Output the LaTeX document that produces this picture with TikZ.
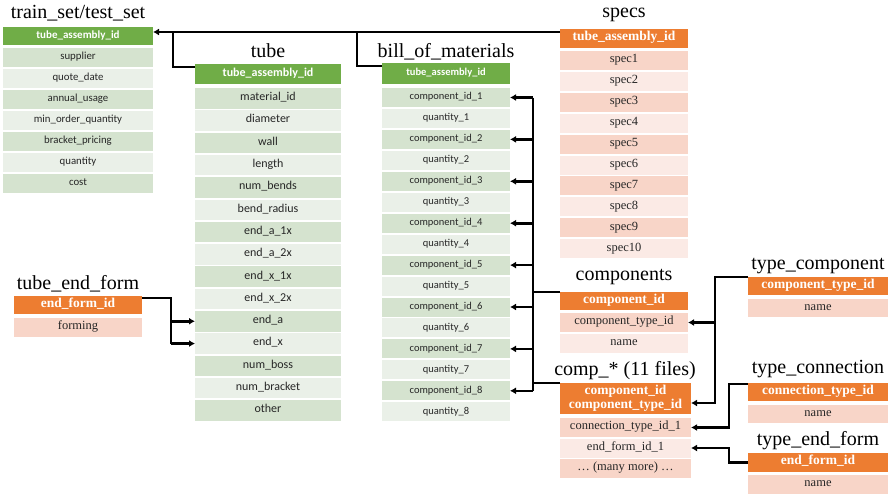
\documentclass[tikz,border=0pt]{standalone}
\usepackage{fontspec}
\setmainfont{Liberation Serif}
\newfontfamily\calfont{Carlito}
\usetikzlibrary{arrows.meta,calc}
\definecolor{hdgreen}{HTML}{70AD47}
\definecolor{rwgreen}{HTML}{D5E3CF}
\definecolor{rwgreenl}{HTML}{EAF0E8}
\definecolor{hdorange}{HTML}{ED7D31}
\definecolor{rworange}{HTML}{F8D5C8}
\definecolor{rworangel}{HTML}{FBEAE5}
\definecolor{txt}{HTML}{262626}
\tikzset{
  cell/.style={anchor=north west,inner sep=0pt,outer sep=0pt,text=txt,text height=0.7em,text depth=0.22em},
  ttl/.style={anchor=base,font=\fontsize{20}{20}\selectfont},
  gh/.style={cell,fill=hdgreen,text=white,font=\calfont\bfseries\fontsize{11}{11}\selectfont},
  g1/.style={cell,fill=rwgreen,font=\calfont\fontsize{10.8}{11}\selectfont},
  g0/.style={cell,fill=rwgreenl,font=\calfont\fontsize{10.8}{11}\selectfont},
  oh/.style={cell,fill=hdorange,text=white,font=\bfseries\fontsize{13.5}{14}\selectfont},
  o1/.style={cell,fill=rworange,font=\fontsize{12.5}{13}\selectfont},
  o0/.style={cell,fill=rworangel,font=\fontsize{12.5}{13}\selectfont},
  link/.style={line width=2.6pt},
  arr/.style={link,-{Latex[length=6pt,width=7pt]}},
}
\begin{document}
\begin{tikzpicture}[x=1pt,y=-1pt]
\useasboundingbox (0,0) rectangle (896,503);

% train_set/test_set
\node[ttl] (tts-t) at (78,19) {train\_set/test\_set};
\node[gh,minimum width=150pt,minimum height=18pt] (tts-h) at (3,27) {tube\_assembly\_id};
\foreach \t [count=\i, evaluate=\i as \c using {int(mod(\i,2))}] in
  {supplier,quote\_date,annual\_usage,min\_order\_quantity,bracket\_pricing,quantity,cost}
  \node[g\c,minimum width=150pt,minimum height=19pt] (tts-\i) at (3,{48+(\i-1)*21}) {\t};

% tube
\node[ttl] (tube-t) at (268,58) {tube};
\node[gh,font=\calfont\bfseries\fontsize{12}{12}\selectfont,minimum width=146pt,minimum height=20pt] (tube-h) at (195,64) {tube\_assembly\_id};
\foreach \t [count=\i, evaluate=\i as \c using {int(mod(\i,2))}] in
  {material\_id,diameter,wall,length,num\_bends,bend\_radius,end\_a\_1x,end\_a\_2x,end\_x\_1x,end\_x\_2x,end\_a,end\_x,num\_boss,num\_bracket,other}
  \node[g\c,font=\calfont\fontsize{12}{12}\selectfont,minimum width=146pt,minimum height=20.5pt] (tube-\i) at (195,{88+(\i-1)*22.3}) {\t};

% bill_of_materials
\node[ttl] (bom-t) at (446,58) {bill\_of\_materials};
\node[gh,font=\calfont\bfseries\fontsize{10.5}{11}\selectfont,minimum width=128pt,minimum height=21pt] (bom-h) at (382,63) {tube\_assembly\_id};
\foreach \t [count=\i, evaluate=\i as \c using {int(mod(\i,2))}] in
  {component\_id\_1,quantity\_1,component\_id\_2,quantity\_2,component\_id\_3,quantity\_3,component\_id\_4,quantity\_4,
   component\_id\_5,quantity\_5,component\_id\_6,quantity\_6,component\_id\_7,quantity\_7,component\_id\_8,quantity\_8}
  \node[g\c,font=\calfont\fontsize{10.5}{11}\selectfont,minimum width=128pt,minimum height=19pt] (bom-\i) at (382,{88+(\i-1)*20.95}) {\t};

% specs
\node[ttl] (spec-t) at (624,18) {specs};
\node[oh,minimum width=128pt,minimum height=19pt] (spec-h) at (560,29) {tube\_assembly\_id};
\foreach \t [count=\i, evaluate=\i as \c using {int(mod(\i,2))}] in
  {spec1,spec2,spec3,spec4,spec5,spec6,spec7,spec8,spec9,spec10}
  \node[o\c,minimum width=128pt,minimum height=19pt] (spec-\i) at (560,{51+(\i-1)*20.9}) {\t};

% components
\node[ttl] (comp-t) at (624,280) {components};
\node[oh,minimum width=128pt,minimum height=18pt] (comp-h) at (560,292) {component\_id};
\node[o1,minimum width=128pt,minimum height=19pt] (comp-1) at (560,313) {component\_type\_id};
\node[o0,minimum width=128pt,minimum height=19pt] (comp-2) at (560,333.5) {name};

% comp_*
\node[ttl] (cstar-t) at (625,375) {comp\_* (11 files)};
\node[oh,font=\bfseries\fontsize{13.5}{13.5}\selectfont,align=center,minimum width=131pt,minimum height=31pt,text height=,text depth=] (cstar-h) at (560,383)
  {component\_id\\component\_type\_id};
\foreach \t [count=\i, evaluate=\i as \c using {int(mod(\i,2))}] in
  {connection\_type\_id\_1,end\_form\_id\_1,{… (many more) …}}
  \node[o\c,minimum width=131pt,minimum height=19pt] (cstar-\i) at (560,{418+(\i-1)*20.5}) {\t};

% type_component
\node[ttl] (tcomp-t) at (818,269) {type\_component};
\node[oh,minimum width=140pt,minimum height=18pt] (tcomp-h) at (748,277) {component\_type\_id};
\node[o1,minimum width=140pt,minimum height=18pt] (tcomp-1) at (748,299) {name};

% type_connection
\node[ttl] (tcon-t) at (818,373) {type\_connection};
\node[oh,minimum width=140pt,minimum height=18pt] (tcon-h) at (748,383) {connection\_type\_id};
\node[o1,minimum width=140pt,minimum height=18pt] (tcon-1) at (748,405) {name};

% type_end_form
\node[ttl] (tef-t) at (818,445) {type\_end\_form};
\node[oh,minimum width=140pt,minimum height=19pt] (tef-h) at (748,453) {end\_form\_id};
\node[o1,minimum width=140pt,minimum height=19pt] (tef-1) at (748,475) {name};

% tube_end_form
\node[ttl] (tuef-t) at (78,289) {tube\_end\_form};
\node[oh,minimum width=128pt,minimum height=18pt] (tuef-h) at (14,296) {end\_form\_id};
\node[o1,minimum width=128pt,minimum height=19pt] (tuef-1) at (14,318) {forming};

% tube_assembly_id links
\coordinate (jt) at (173,32);
\coordinate (jb) at (357,32);
\draw[arr] ([yshift=-3pt]spec-h.north west) -- ([yshift=-3pt]spec-h.north west -| tts-h.east);
\draw[link] ([yshift=-3pt]tube-h.north west) -| (jt);
\draw[link] ([yshift=-3pt]bom-h.north west) -| (jb);

% component_id links
\coordinate (bus) at (533,0);
\draw[link] (bus |- bom-1) -- (bus |- bom-15);
\foreach \k in {1,3,...,15}
  \draw[arr] (bus |- bom-\k) -- (bom-\k.east);
\draw[link] (comp-h.north west) -- (comp-h.north west -| bus);
\draw[link] (cstar-h.north west) -- (cstar-h.north west -| bus);

% component_type_id links
\coordinate (tc) at (715,0);
\coordinate (tcb) at (715,403);
\draw[arr] (tcomp-h.north west) -| (tcb) -- (tcb -| cstar-h.east);
\draw[arr] (tc |- comp-1) -- (comp-1.east);

% connection / end form links
\coordinate (tcx) at (729,0);
\draw[arr] ([yshift=-1pt]tcon-h.north west) -| (tcx |- cstar-1) -- (cstar-1.east);
\draw[arr] (tef-h.west) -| (tcx |- cstar-2) -- (cstar-2.east);

% end_a / end_x links
\coordinate (te) at (171,0);
\draw[link] ([yshift=-2pt]tuef-h.north east) -| (te |- tube-12);
\draw[arr] (te |- tube-11) -- (tube-11.west);
\draw[arr] (te |- tube-12) -- (tube-12.west);
\end{tikzpicture}
\end{document}
